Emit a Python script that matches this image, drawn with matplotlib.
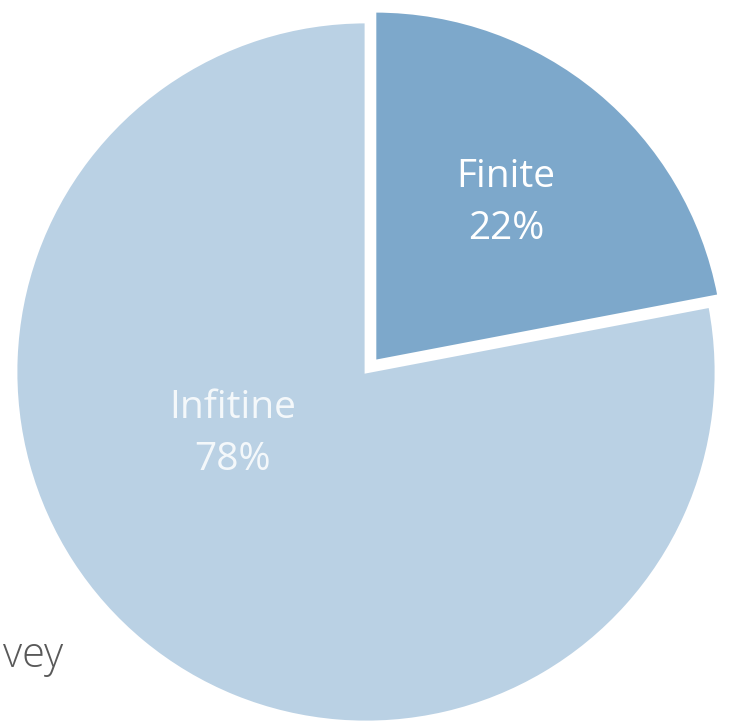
import matplotlib
matplotlib.use("Agg")
import matplotlib.pyplot as plt

categories = ["Finite", "Infitine"]
values = [22, 78]
colors = ["#7DA8CB", "#BAD1E4"]

W, H = 731, 728
fig = plt.figure(figsize=(W / 100, H / 100), dpi=100)
ax = fig.add_axes([0, 0, 1, 1])

cx, cy, r = 366, 356, 350
wedges, _ = ax.pie(values, colors=colors, startangle=90, counterclock=False,
                   center=(cx, cy), radius=r, explode=[14, 0],
                   wedgeprops=dict(edgecolor="white", linewidth=2.0),
                   frame=True)
ax.set_xlim(0, W)
ax.set_ylim(0, H)
ax.set_aspect("equal")
ax.axis("off")

font = ["Open Sans", "DejaVu Sans"]
label_pos = [(506, 728 - 203), (233, 728 - 434)]
alphas = [1.0, 0.85]
for cat, val, (tx, ty), a in zip(categories, values, label_pos, alphas):
    ax.text(tx, ty, f"{cat}\n{val}%", ha="center", va="center", color="white",
            alpha=a, fontsize=28, family=font, linespacing=1.45)

ax.text(3, 728 - 656, "vey", ha="left", va="center", color="#595959",
        fontsize=30, family=font, fontweight="light")

fig.savefig("out.png", dpi=100, facecolor="white")
